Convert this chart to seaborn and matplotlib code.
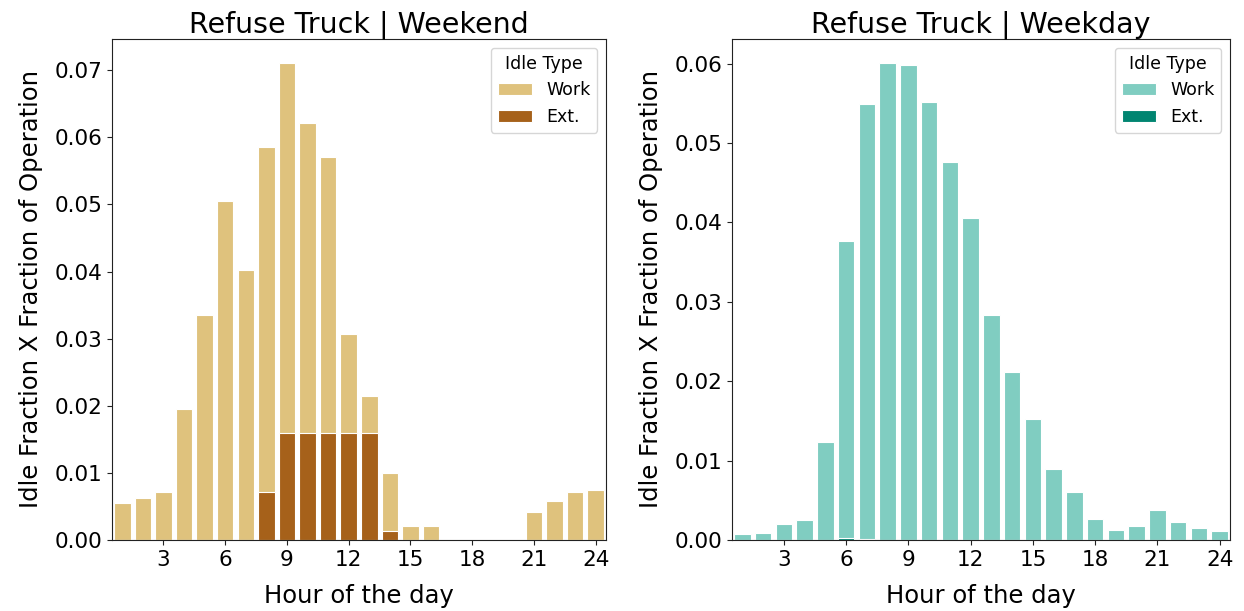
import numpy as np
import pandas as pd
import seaborn as sns
import matplotlib
matplotlib.use("Agg")
import matplotlib.pyplot as plt

hours = list(range(1, 25))

weekend_work = [0.0055, 0.0063, 0.0072, 0.0195, 0.0335, 0.0505, 0.0402, 0.0586,
                0.0711, 0.0621, 0.0571, 0.0307, 0.0214, 0.0100, 0.0021, 0.0021,
                0.0, 0.0, 0.0, 0.0, 0.0042, 0.0058, 0.0071, 0.0075]
weekend_ext = [0.0, 0.0, 0.0, 0.0, 0.0, 0.0, 0.0, 0.0072,
               0.0159, 0.0159, 0.0159, 0.0159, 0.0159, 0.0013, 0.0, 0.0,
               0.0, 0.0, 0.0, 0.0, 0.0, 0.0, 0.0, 0.0]

weekday_work = [0.0008, 0.0009, 0.0020, 0.0025, 0.0124, 0.0376, 0.0549, 0.0601,
                0.0598, 0.0552, 0.0476, 0.0405, 0.0284, 0.0212, 0.0152, 0.0090,
                0.0060, 0.0027, 0.0013, 0.0018, 0.0038, 0.0023, 0.0015, 0.0011]
weekday_ext = [0.0, 0.0, 0.0, 0.0, 0.0, 0.0003, 0.0001, 0.0,
               0.0, 0.0, 0.0, 0.0, 0.0, 0.0, 0.0, 0.0,
               0.0, 0.0, 0.0, 0.0, 0.0, 0.0, 0.0, 0.0]

tick_hours = [3, 6, 9, 12, 15, 18, 21, 24]

panels = [
    ("Refuse Truck | Weekend", weekend_work, weekend_ext, "#dfc27d", "#a6611a"),
    ("Refuse Truck | Weekday", weekday_work, weekday_ext, "#80cdc1", "#018571"),
]

sns.set_style("ticks")
plt.rcParams["font.family"] = ["DejaVu Sans"]
plt.rcParams.update({
    "text.color": "black",
    "axes.labelcolor": "black",
    "axes.edgecolor": "#222222",
    "xtick.color": "#222222",
    "ytick.color": "#222222",
    "xtick.labelcolor": "black",
    "ytick.labelcolor": "black",
})

fig = plt.figure(figsize=(12.44, 6.11), dpi=100)
axes = [fig.add_axes([112 / 1244, 71 / 611, 494 / 1244, 501 / 611]),
        fig.add_axes([732 / 1244, 71 / 611, 498 / 1244, 501 / 611])]

for ax, (title, work, ext, c_work, c_ext) in zip(axes, panels):
    df = pd.DataFrame({"hour": hours, "work": work, "ext": ext})
    sns.barplot(data=df, x="hour", y="work", color=c_work, saturation=1,
                edgecolor="white", linewidth=0.8, label="Work", ax=ax)
    sns.barplot(data=df, x="hour", y="ext", color=c_ext, saturation=1,
                edgecolor="white", linewidth=0.8, label="Ext.", ax=ax)
    ax.set_xticks([hours.index(h) for h in tick_hours])
    ax.set_xticklabels([str(h) for h in tick_hours])
    ax.set_xlim(-0.5, 23.5)
    ax.set_ylim(0, max(work) * 1.05)
    ax.set_title(title, fontsize=20.5, pad=5)
    ax.set_xlabel("Hour of the day", fontsize=17.5, labelpad=10)
    ax.set_ylabel("Idle Fraction X Fraction of Operation", fontsize=17.5, labelpad=8)
    ax.tick_params(labelsize=15.5)
    ax.yaxis.set_major_formatter(matplotlib.ticker.FormatStrFormatter("%.2f"))
    ax.legend(title="Idle Type", loc="upper right", fontsize=12.5, title_fontsize=12.5)

fig.savefig("out.png", dpi=100)
